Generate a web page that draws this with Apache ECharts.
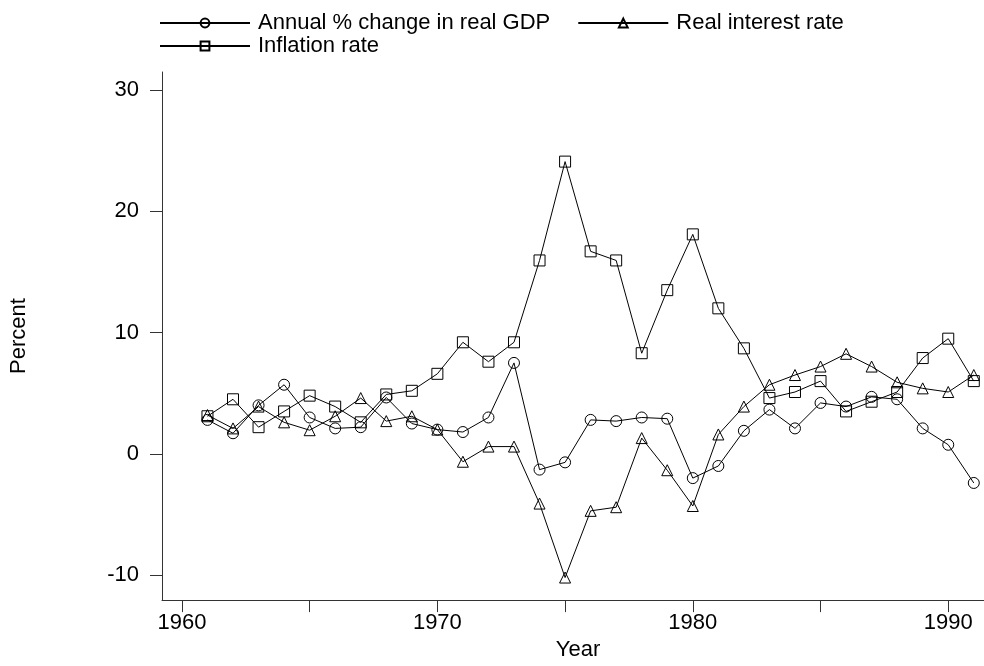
<!DOCTYPE html>
<html>
<head>
<meta charset="utf-8">
<script src="https://cdn.jsdelivr.net/npm/echarts@6/dist/echarts.min.js"></script>
<style>html,body{margin:0;padding:0;background:#fff}#c{width:984px;height:666px}</style>
</head>
<body>
<div id="c"></div>
<script>
const years = [1961,1962,1963,1964,1965,1966,1967,1968,1969,1970,1971,1972,1973,1974,1975,1976,1977,1978,1979,1980,1981,1982,1983,1984,1985,1986,1987,1988,1989,1990,1991];
const gdpGrowth = [2.8,1.7,4.0,5.7,3.0,2.1,2.2,4.65,2.5,2.0,1.8,3.0,7.5,-1.3,-0.7,2.8,2.7,3.0,2.9,-2.0,-1.0,1.9,3.65,2.1,4.2,3.9,4.7,4.5,2.1,0.75,-2.4];
const realInterest = [3.2,2.1,3.9,2.6,1.95,3.1,4.6,2.7,3.1,2.0,-0.65,0.6,0.6,-4.1,-10.2,-4.7,-4.4,1.3,-1.35,-4.3,1.6,3.9,5.7,6.5,7.2,8.25,7.2,5.9,5.4,5.1,6.5];
const inflation = [3.1,4.5,2.2,3.5,4.8,3.9,2.6,4.9,5.2,6.6,9.2,7.6,9.2,15.95,24.1,16.7,15.95,8.3,13.5,18.1,12.0,8.7,4.6,5.1,6.0,3.5,4.3,5.1,7.9,9.5,6.0];
const xTicks = [1960,1965,1970,1975,1980,1985,1990];
const xLabels = [1960,1970,1980,1990];
const yTicks = [-10,0,10,20,30];
const names = ['Annual % change in real GDP','Real interest rate','Inflation rate'];

const FONT = 'Liberation Sans, Arial, Helvetica, sans-serif';
const pairs = arr => years.map((y,i)=>[y,arr[i]]);
function mk(name, data, symbol){
  return {
    name, type:'line', data:pairs(data), symbol, symbolSize:11,
    showSymbol:true, clip:false,
    lineStyle:{color:'#000',width:1},
    itemStyle:{color:'rgba(255,255,255,0)',borderColor:'#000',borderWidth:1},
    emphasis:{disabled:true}, z:2
  };
}
const chart = echarts.init(document.getElementById('c'), null, {renderer:'canvas'});
const legendCommon = {
  orient:'horizontal', itemWidth:90, itemHeight:11, itemGap:27, padding:0,
  textStyle:{fontFamily:FONT,fontSize:22,color:'#000',padding:[0,0,0,3]},
  inactiveColor:'#000', selectedMode:false
};
chart.setOption({
  animation:false,
  backgroundColor:'#fff',
  textStyle:{fontFamily:FONT},
  legend:[
    Object.assign({}, legendCommon, {left:159, top:12, data:[names[0],names[1]]}),
    Object.assign({}, legendCommon, {left:159, top:35, data:[names[2]]})
  ],
  grid:{left:159,right:0,top:72,bottom:58,containLabel:false},
  xAxis:{
    type:'value', min:1959.22, max:1991.4,
    name:'Year', nameLocation:'middle', nameGap:34,
    nameTextStyle:{fontFamily:FONT,fontSize:22,color:'#000',padding:[0,0,0,10]},
    axisLine:{show:true,onZero:false,lineStyle:{color:'#333',width:1}},
    axisTick:{show:true,length:12,inside:false,customValues:xTicks,lineStyle:{color:'#333'}},
    axisLabel:{customValues:xLabels,formatter:v=>String(v),fontFamily:FONT,fontSize:22,color:'#000',margin:12},
    splitLine:{show:false}
  },
  yAxis:{
    type:'value', min:-12.06, max:31.49,
    name:'Percent', nameLocation:'middle', nameGap:132, nameRotate:90,
    nameTextStyle:{fontFamily:FONT,fontSize:22,color:'#000'},
    axisLine:{show:true,onZero:false,lineStyle:{color:'#333',width:1}},
    axisTick:{show:true,length:12,inside:false,customValues:yTicks,lineStyle:{color:'#333'}},
    axisLabel:{customValues:yTicks,fontFamily:FONT,fontSize:22,color:'#000',margin:23},
    splitLine:{show:false}
  },
  series:[
    mk(names[0], gdpGrowth, 'circle'),
    mk(names[1], realInterest, 'triangle'),
    mk(names[2], inflation, 'rect')
  ]
});
</script>
</body>
</html>
